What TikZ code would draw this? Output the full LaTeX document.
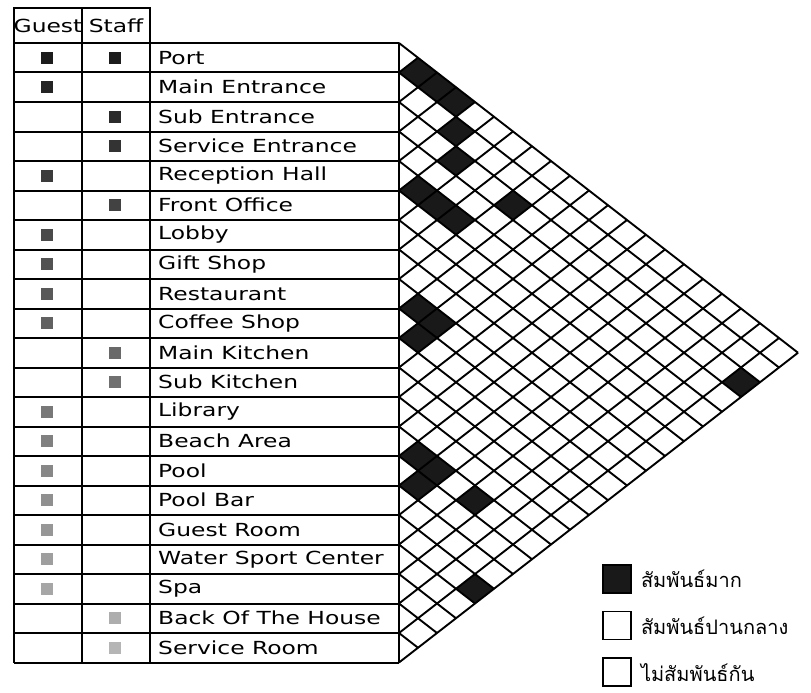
\documentclass[tikz,border=0pt]{standalone}
\usepackage{fontspec}
\setmainfont[FakeStretch=1.3]{DejaVu Sans}
\newfontfamily\thaifont[Script=Thai]{Loma}
\usetikzlibrary{positioning}
\tikzset{
  tblline/.style={line width=2pt, draw=black},
  gridline/.style={line width=1.9pt, draw=black},
  strongcell/.style={fill=black!90},
  rowlabel/.style={anchor=west, inner sep=0pt, font=\fontsize{18}{19}\selectfont},
  headlabel/.style={inner sep=0pt, font=\fontsize{18}{19}\selectfont},
  iconbox/.style={draw=none, minimum size=12pt, inner sep=0pt},
  legsq/.style={draw=black, line width=1.6pt, minimum size=28pt, inner sep=0pt},
  legtxt/.style={anchor=west, inner sep=0pt, font=\thaifont\fontsize{20}{21}\selectfont},
}
\begin{document}
\begin{tikzpicture}[x=1pt, y=-1pt]
  \useasboundingbox (0,0) rectangle (811,693);

  % strong relations
  \foreach \i/\j in {1/2, 1/3, 1/4, 2/5, 3/6, 5/6, 5/7, 5/8, 3/9, 9/10, 9/11, 10/11,
                     3/21, 14/15, 14/16, 15/16, 14/18, 17/21} {
    \fill[strongcell] ({399+19*(\j-\i)},{43+(\i+\j-1)*14.75})
      +(-19,0) -- +(0,-14.75) -- +(19,0) -- +(0,14.75) -- cycle;
  }

  % diamond grid
  \foreach \k in {0,...,21} {
    \draw[gridline] (399,{43+\k*29.5}) -- ++({(21-\k)*19},{(21-\k)*14.75});
    \draw[gridline] (399,{43+\k*29.5}) -- ++({\k*19},{-\k*14.75});
  }

  % table
  \draw[tblline] (14,8) rectangle (150,43);
  \draw[tblline] (82,8) -- (82,43);
  \foreach \k in {0,...,21} {
    \draw[tblline] (14,{43+\k*29.5}) -- (399,{43+\k*29.5});
  }
  \foreach \x in {14, 82, 150, 399} {
    \draw[tblline] (\x,43) -- (\x,662.5);
  }

  \node[headlabel] (guest) at (48,26) {Guest};
  \node[headlabel] (staff) at (116,26) {Staff};

  \foreach \nm [count=\i] in {Port, Main Entrance, Sub Entrance, Service Entrance,
      Reception Hall, Front Office, Lobby, Gift Shop, Restaurant, Coffee Shop,
      Main Kitchen, Sub Kitchen, Library, Beach Area, Pool, Pool Bar, Guest Room,
      Water Sport Center, Spa, Back Of The House, Service Room} {
    \node[rowlabel] (r\i) at (158,{43+(\i-0.5)*29.5}) {\nm};
  }

  % user icons
  \foreach \r in {1, 2, 5, 7, 8, 9, 10, 13, 14, 15, 16, 17, 18, 19} {
    \pgfmathtruncatemacro{\shade}{92-\r*3}
    \node[iconbox, fill=black!\shade] (g\r) at (47,{43+(\r-0.5)*29.5}) {};
  }
  \foreach \r in {1, 3, 4, 6, 11, 12, 20, 21} {
    \pgfmathtruncatemacro{\shade}{92-\r*3}
    \node[iconbox, fill=black!\shade] (s\r) at (115,{43+(\r-0.5)*29.5}) {};
  }

  % legend
  \node[legsq, fill=black!90] (k1) at (617,579) {};
  \node[legsq, below=17pt of k1] (k2) {};
  \node[legsq, below=17pt of k2] (k3) {};
  \node[legtxt, right=9pt of k1] (t1) {สัมพันธ์มาก};
  \node[legtxt, right=9pt of k2] (t2) {สัมพันธ์ปานกลาง};
  \node[legtxt, right=9pt of k3] (t3) {ไม่สัมพันธ์กัน};
\end{tikzpicture}
\end{document}
